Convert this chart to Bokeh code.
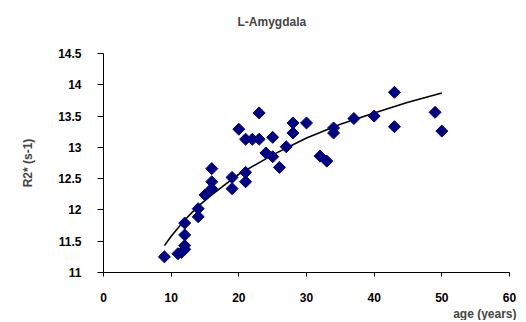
import numpy as np
from bokeh.plotting import figure
from bokeh.models import Range1d, FixedTicker, Title, LinearAxis
from bokeh.embed import file_html
from bokeh.resources import INLINE

# scatter data (age in years, R2* in s-1)
age = [9, 11, 11.5, 12, 12, 12, 12, 14, 14, 15, 16, 16, 16, 19, 19, 20, 21, 21, 21, 22,
       23, 23, 24, 25, 25, 26, 27, 28, 28, 30, 32, 33, 34, 34, 37, 40, 43, 43, 49, 50]
r2 = [11.25, 11.30, 11.32, 11.37, 11.43, 11.60, 11.79, 11.89, 12.02, 12.24, 12.34, 12.45, 12.66,
      12.34, 12.52, 13.29, 12.45, 12.60, 13.13, 13.13, 13.13, 13.55, 12.91, 12.85, 13.16, 12.68,
      13.01, 13.23, 13.39, 13.39, 12.86, 12.78, 13.31, 13.23, 13.46, 13.50, 13.88, 13.33, 13.56, 13.26]

# trend line
fit_age = [9, 10, 12, 14, 16, 18, 20, 25, 30, 35, 40, 45, 50]
fit_r2 = [11.43, 11.58, 11.84, 12.06, 12.24, 12.41, 12.57, 12.88, 13.15, 13.37, 13.55, 13.72, 13.87]

x_ticks = [0, 10, 20, 30, 40, 50, 60]
y_ticks = [11, 11.5, 12, 12.5, 13, 13.5, 14, 14.5]
y_tick_labels = ["11", "11.5", "12", "12.5", "13", "13.5", "14", "14.5"]

FONT = "Liberation Sans"
FS = "12px"

p = figure(width=518, height=320, output_backend="svg", toolbar_location=None, title=None,
           x_range=Range1d(0, 60), y_range=Range1d(11, 14.5),
           min_border_left=103, min_border_right=9, min_border_top=53, min_border_bottom=46)

p.outline_line_color = None
p.xgrid.visible = False
p.ygrid.visible = False
p.background_fill_color = "white"
p.border_fill_color = "white"

p.line(fit_age, fit_r2, line_color="black", line_width=1.6)
p.scatter(age, r2, marker="square", angle=np.pi / 4, size=8.5,
          fill_color="#000080", line_color="#000080")

for ax in (p.xaxis[0], p.yaxis[0]):
    ax.axis_line_color = "black"
    ax.major_tick_line_color = "black"
    ax.minor_tick_line_color = None
    ax.major_tick_in = 0
    ax.major_label_text_font = FONT
    ax.major_label_text_font_size = FS
    ax.major_label_text_font_style = "bold"
    ax.major_label_text_color = "black"

p.xaxis.ticker = FixedTicker(ticks=x_ticks)
p.xaxis.major_tick_out = 4
p.xaxis.major_label_standoff = 16

p.yaxis.ticker = FixedTicker(ticks=y_ticks)
p.yaxis.major_label_overrides = {t: l for t, l in zip(y_ticks, y_tick_labels)}
p.yaxis.major_tick_out = 6
p.yaxis.major_label_standoff = 16
p.yaxis.axis_label = "R2* (s-1)"
p.yaxis.axis_label_text_font = FONT
p.yaxis.axis_label_text_font_size = FS
p.yaxis.axis_label_text_font_style = "bold"
p.yaxis.axis_label_standoff = 20

# blank spacer (one white tick, no label, no line) between plot frame and title
spacer = LinearAxis(ticker=FixedTicker(ticks=[0]), axis_line_color=None,
                    major_tick_line_color="white", minor_tick_line_color=None,
                    major_tick_in=0, major_tick_out=25, major_label_standoff=0,
                    major_label_overrides={0: ""}, major_label_text_font_size="0px")
p.add_layout(spacer, "above")

title = Title(text="L-Amygdala", align="left", offset=134, text_font=FONT,
              text_font_size=FS, text_font_style="bold", standoff=0)
p.add_layout(title, "above")

xlab = Title(text="age (years)", align="right", text_font=FONT, text_font_size=FS,
             text_font_style="bold", offset=-7, standoff=0)
p.add_layout(xlab, "below")

open("out.html", "w").write(file_html(p, INLINE))
